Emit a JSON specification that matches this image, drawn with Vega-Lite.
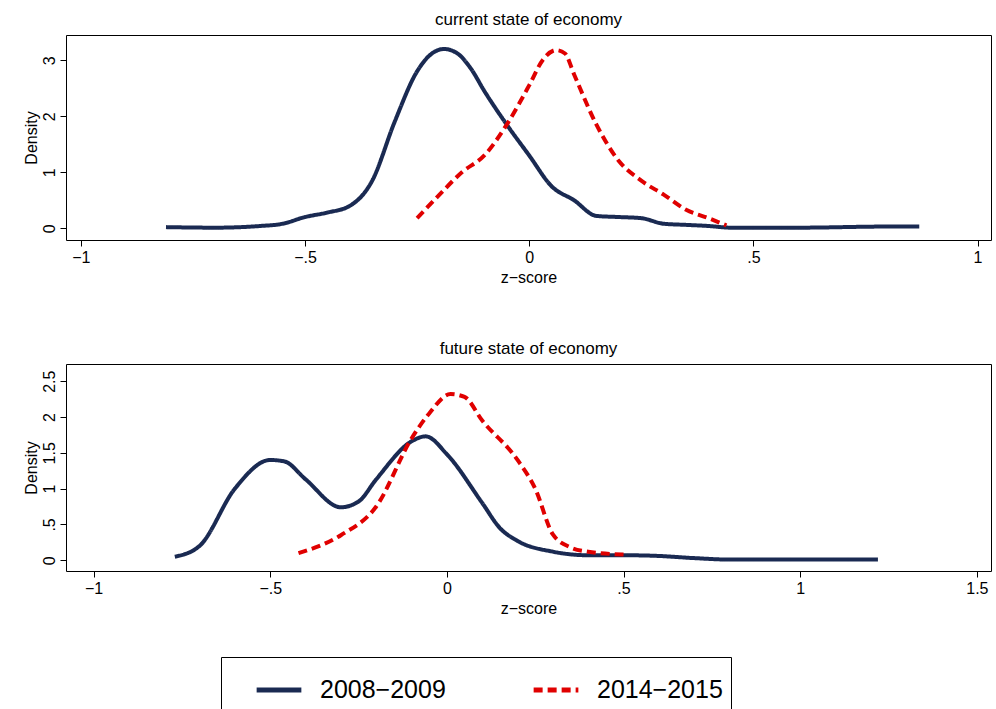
{
  "$schema": "https://vega.github.io/schema/vega-lite/v6.json",
  "background": "white",
  "padding": {"left": 22, "top": 10, "right": 2, "bottom": 0},
  "config": {
    "font": "Liberation Sans",
    "view": {"stroke": "black", "strokeWidth": 1},
    "title": {"fontSize": 17, "fontWeight": "normal", "offset": 6},
    "axis": {"labelFontSize": 16, "titleFontSize": 16, "titleFontWeight": "normal", "grid": false, "domain": false, "tickColor": "black", "labelColor": "black", "titleColor": "black", "tickSize": 6, "labelPadding": 3},
    "legend": {"orient": "none", "legendX": 155, "legendY": 622, "direction": "horizontal", "title": null, "symbolType": "stroke", "symbolSize": 2000, "symbolStrokeWidth": 5, "labelFontSize": 25, "strokeColor": "black", "padding": 8, "columnPadding": 60, "labelColor": "black", "labelLimit": 300, "labelOffset": 16, "symbolOffset": 25},
    "concat": {"spacing": 53}
  },
  "datasets": {
    "d": [
      {"p":"c","s":"2008−2009","z":-0.81,"y":0.02},{"p":"c","s":"2008−2009","z":-0.7,"y":0.01},{"p":"c","s":"2008−2009","z":-0.6,"y":0.04},{"p":"c","s":"2008−2009","z":-0.55,"y":0.08},{"p":"c","s":"2008−2009","z":-0.5,"y":0.2},{"p":"c","s":"2008−2009","z":-0.45,"y":0.28},{"p":"c","s":"2008−2009","z":-0.4,"y":0.4},{"p":"c","s":"2008−2009","z":-0.35,"y":0.85},{"p":"c","s":"2008−2009","z":-0.3,"y":1.9},{"p":"c","s":"2008−2009","z":-0.25,"y":2.8},{"p":"c","s":"2008−2009","z":-0.22,"y":3.1},{"p":"c","s":"2008−2009","z":-0.19,"y":3.2},{"p":"c","s":"2008−2009","z":-0.16,"y":3.12},{"p":"c","s":"2008−2009","z":-0.13,"y":2.85},{"p":"c","s":"2008−2009","z":-0.1,"y":2.45},{"p":"c","s":"2008−2009","z":-0.05,"y":1.85},{"p":"c","s":"2008−2009","z":0,"y":1.3},{"p":"c","s":"2008−2009","z":0.05,"y":0.75},{"p":"c","s":"2008−2009","z":0.1,"y":0.5},{"p":"c","s":"2008−2009","z":0.15,"y":0.22},{"p":"c","s":"2008−2009","z":0.2,"y":0.2},{"p":"c","s":"2008−2009","z":0.25,"y":0.18},{"p":"c","s":"2008−2009","z":0.3,"y":0.08},{"p":"c","s":"2008−2009","z":0.35,"y":0.06},{"p":"c","s":"2008−2009","z":0.4,"y":0.04},{"p":"c","s":"2008−2009","z":0.45,"y":0.01},{"p":"c","s":"2008−2009","z":0.6,"y":0.01},{"p":"c","s":"2008−2009","z":0.8,"y":0.03},{"p":"c","s":"2008−2009","z":0.87,"y":0.03},
      {"p":"c","s":"2014−2015","z":-0.25,"y":0.18},{"p":"c","s":"2014−2015","z":-0.2,"y":0.6},{"p":"c","s":"2014−2015","z":-0.15,"y":1.0},{"p":"c","s":"2014−2015","z":-0.1,"y":1.3},{"p":"c","s":"2014−2015","z":-0.05,"y":1.85},{"p":"c","s":"2014−2015","z":0,"y":2.55},{"p":"c","s":"2014−2015","z":0.03,"y":3.0},{"p":"c","s":"2014−2015","z":0.06,"y":3.18},{"p":"c","s":"2014−2015","z":0.08,"y":3.12},{"p":"c","s":"2014−2015","z":0.1,"y":2.75},{"p":"c","s":"2014−2015","z":0.15,"y":1.85},{"p":"c","s":"2014−2015","z":0.2,"y":1.2},{"p":"c","s":"2014−2015","z":0.25,"y":0.85},{"p":"c","s":"2014−2015","z":0.3,"y":0.6},{"p":"c","s":"2014−2015","z":0.35,"y":0.33},{"p":"c","s":"2014−2015","z":0.4,"y":0.18},{"p":"c","s":"2014−2015","z":0.44,"y":0.05},
      {"p":"f","s":"2008−2009","z":-0.77,"y":0.05},{"p":"f","s":"2008−2009","z":-0.7,"y":0.2},{"p":"f","s":"2008−2009","z":-0.6,"y":1.0},{"p":"f","s":"2008−2009","z":-0.5,"y":1.4},{"p":"f","s":"2008−2009","z":-0.46,"y":1.38},{"p":"f","s":"2008−2009","z":-0.4,"y":1.13},{"p":"f","s":"2008−2009","z":-0.3,"y":0.74},{"p":"f","s":"2008−2009","z":-0.25,"y":0.82},{"p":"f","s":"2008−2009","z":-0.2,"y":1.13},{"p":"f","s":"2008−2009","z":-0.1,"y":1.66},{"p":"f","s":"2008−2009","z":-0.06,"y":1.73},{"p":"f","s":"2008−2009","z":0,"y":1.48},{"p":"f","s":"2008−2009","z":0.1,"y":0.8},{"p":"f","s":"2008−2009","z":0.15,"y":0.45},{"p":"f","s":"2008−2009","z":0.2,"y":0.27},{"p":"f","s":"2008−2009","z":0.3,"y":0.12},{"p":"f","s":"2008−2009","z":0.4,"y":0.07},{"p":"f","s":"2008−2009","z":0.5,"y":0.07},{"p":"f","s":"2008−2009","z":0.6,"y":0.06},{"p":"f","s":"2008−2009","z":0.7,"y":0.03},{"p":"f","s":"2008−2009","z":0.8,"y":0.01},{"p":"f","s":"2008−2009","z":1.0,"y":0.01},{"p":"f","s":"2008−2009","z":1.22,"y":0.01},
      {"p":"f","s":"2014−2015","z":-0.42,"y":0.1},{"p":"f","s":"2014−2015","z":-0.3,"y":0.35},{"p":"f","s":"2014−2015","z":-0.2,"y":0.75},{"p":"f","s":"2014−2015","z":-0.1,"y":1.7},{"p":"f","s":"2014−2015","z":-0.05,"y":2.05},{"p":"f","s":"2014−2015","z":0.01,"y":2.32},{"p":"f","s":"2014−2015","z":0.05,"y":2.28},{"p":"f","s":"2014−2015","z":0.1,"y":1.95},{"p":"f","s":"2014−2015","z":0.2,"y":1.4},{"p":"f","s":"2014−2015","z":0.25,"y":1.0},{"p":"f","s":"2014−2015","z":0.3,"y":0.36},{"p":"f","s":"2014−2015","z":0.35,"y":0.18},{"p":"f","s":"2014−2015","z":0.4,"y":0.12},{"p":"f","s":"2014−2015","z":0.5,"y":0.08}
    ]
  },
  "data": {"name": "d"},
  "vconcat": [
    {
      "title": "current state of economy",
      "width": 925, "height": 205,
      "transform": [{"filter": "datum.p == 'c'"}],
      "mark": {"type": "line", "strokeWidth": 4, "interpolate": "monotone"},
      "encoding": {
        "x": {"field": "z", "type": "quantitative", "title": "z−score", "scale": {"domain": [-1.033, 1.03], "nice": false, "zero": false}, "axis": {"values": [-1, -0.5, 0, 0.5, 1], "labelExpr": "replace(replace(datum.value + '', '0.', '.'), '-', '−')"}},
        "y": {"field": "y", "type": "quantitative", "title": "Density", "scale": {"domain": [-0.21, 3.45], "nice": false}, "axis": {"values": [0, 1, 2, 3], "labelAngle": -90, "labelAlign": "center", "labelBaseline": "bottom", "titlePadding": 2}},
        "color": {"field": "s", "type": "nominal", "scale": {"range": ["#1a2a52", "#e00000"]}},
        "strokeDash": {"field": "s", "type": "nominal", "scale": {"range": [[1, 0], [9, 5]]}}
      }
    },
    {
      "title": "future state of economy",
      "width": 925, "height": 207,
      "transform": [{"filter": "datum.p == 'f'"}],
      "mark": {"type": "line", "strokeWidth": 4, "interpolate": "monotone"},
      "encoding": {
        "x": {"field": "z", "type": "quantitative", "title": "z−score", "scale": {"domain": [-1.078, 1.54], "nice": false, "zero": false}, "axis": {"values": [-1, -0.5, 0, 0.5, 1, 1.5], "labelExpr": "replace(replace(datum.value + '', '0.', '.'), '-', '−')"}},
        "y": {"field": "y", "type": "quantitative", "title": "Density", "scale": {"domain": [-0.15, 2.74], "nice": false}, "axis": {"values": [0, 0.5, 1, 1.5, 2, 2.5], "labelExpr": "replace(datum.value + '', '0.', '.')", "labelAngle": -90, "labelAlign": "center", "labelBaseline": "bottom", "titlePadding": 2}},
        "color": {"field": "s", "type": "nominal", "scale": {"range": ["#1a2a52", "#e00000"]}},
        "strokeDash": {"field": "s", "type": "nominal", "scale": {"range": [[1, 0], [9, 5]]}}
      }
    }
  ],
  "resolve": {"scale": {"x": "independent", "y": "independent"}}
}
